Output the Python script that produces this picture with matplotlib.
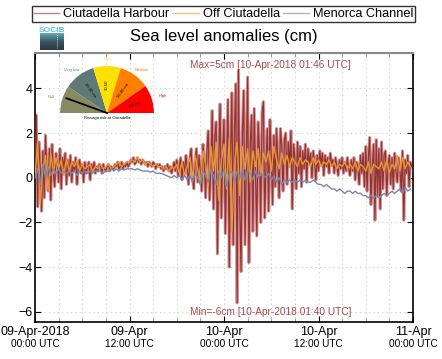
import numpy as np
import matplotlib
matplotlib.use('Agg')
import matplotlib.pyplot as plt
import matplotlib.dates as mdates
from matplotlib.patches import Wedge

plt.rcParams['font.family'] = ['Liberation Sans', 'DejaVu Sans']

# valores (cm)
# Ciutadella Harbour, cada 10 min desde 09-Apr-2018 00:00
harbour = [
    0.2, 2.8, -1.3, 1.6, 0.4, -1.5, 1.2, -0.9, 1.9, 0.3, -0.6, 1.3,
    -1.0, 1.5, 0.2, -0.4, 1.1, 0.6, -0.2, 1.3, -0.5, 0.9, 0.4, 1.1,
    -0.3, 0.8, 0.1, 1.0, -0.2, 0.7, 0.3, 0.9, -0.3, 0.5, 0.8, 0.2,
    0.6, -0.2, 0.7, 0.2, 0.5, 0.7, -0.1, 0.6, 0.3, 0.7, 0.2, 0.5,
    0.3, 0.6, 0.5, 0.2, 0.6, 0.4, 0.3, 0.5, 0.6, 0.3, 0.5, 0.4,
    0.4, 0.6, 0.5, 0.7, 0.4, 0.5, 0.7, 0.4, 0.6, 0.5, 0.7, 0.5,
    0.6, 0.8, 0.7, 0.9, 0.6, 0.7, 0.9, 0.7, 0.8, 0.6, 0.8, 0.7,
    0.6, 0.7, 0.5, 0.7, 0.6, 0.5, 0.7, 0.6, 0.4, 0.6, 0.5, 0.6,
    0.4, 0.5, 0.3, 0.5, 0.4, 0.6, 0.3, 0.5, 0.2, 0.4, 0.7, 0.3,
    0.8, 0.1, 0.5, 0.9, -0.1, 0.7, 0.2, 1.0, 0.4, -0.3, 0.9, 1.3,
    0.0, -0.5, 0.8, 1.3, -0.2, 1.0, 0.3, -0.6, 1.5, 0.6, -0.9, 1.2,
    2.1, -1.0, 0.5, 3.0, -1.4, 1.8, 2.5, -3.4, 0.8, 3.3, -1.8, 1.2,
    2.6, -2.5, 0.4, 3.5, -4.0, 1.0, 3.8, -3.0, 2.2, 4.2, -5.6, 4.8,
    -1.2, -4.2, 2.0, 3.9, -3.0, 0.8, 4.5, -3.8, 1.5, 2.8, -2.4, 3.1,
    0.3, -2.6, 2.5, 1.2, -2.0, 2.9, 3.4, -1.8, 0.6, 2.2, -1.5, 2.6,
    1.0, -1.2, 1.9, -0.4, 2.2, 0.8, -0.9, 2.2, 1.4, -0.6, 1.7, 2.0,
    -0.3, 1.6, 0.5, 2.1, -1.4, 1.5, 0.9, -0.5, 1.6, 0.2, 1.4, -0.4,
    1.2, 0.4, 1.5, -0.2, 1.3, 0.6, 1.1, 0.0, 1.2, 0.7, -0.1, 1.0,
    0.3, 1.2, 0.6, 1.1, 0.1, 1.0, 0.5, 0.9, 0.2, 1.1, 0.6, 0.8,
    0.2, 0.9, 0.5, 0.1, 0.8, 0.4, 0.9, 0.2, 0.7, 0.3, 0.9, 0.4,
    0.1, 0.8, 0.3, 0.9, -0.1, 0.7, 0.5, -0.3, 1.0, 0.2, 1.1, -0.4,
    1.4, -0.6, 0.9, 1.8, -1.2, 0.5, 1.5, -1.9, 1.7, -0.8, 1.3, -1.4,
    1.6, -0.5, 1.0, 1.2, -0.8, 0.6, 1.0, -0.3, 0.9, -0.5, 1.1, 0.3,
    -0.2, 0.9, 0.4, -0.6, 1.2, -1.9, 0.8, 0.2, 1.0, -0.4, 0.7, 0.5,
]

# Off Ciutadella, cada 20 min
off_ciutadella = [
    0.0, 1.6, -1.2, 0.4, 1.0, -0.6,
    1.1, 0.2, 0.9, 0.4, 0.8, 0.1,
    0.9, 0.3, 0.7, 0.5, 0.8, 0.3,
    0.6, 0.4, 0.5, 0.6, 0.3, 0.5,
    0.4, 0.6, 0.4, 0.5, 0.6, 0.4,
    0.5, 0.6, 0.7, 0.5, 0.6, 0.7,
    0.7, 0.8, 0.7, 0.9, 0.7, 0.8,
    0.6, 0.7, 0.6, 0.5, 0.6, 0.5,
    0.5, 0.4, 0.5, 0.3, 0.5, 0.4,
    0.6, 0.2, 0.7, 0.1, 0.5, 0.9,
    0.0, 1.0, 0.4, -0.3, 1.2, 0.6,
    -0.4, 1.4, 0.3, 1.6, -1.0, 0.8,
    1.5, -0.5, 1.8, -2.4, 0.6, 1.6,
    -0.8, 1.4, 0.4, 1.3, -0.2, 1.2,
    0.5, 1.3, 0.1, 1.1, 0.7, 1.2,
    0.3, 1.4, 0.8, 0.4, 1.1, 0.6,
    1.0, 0.5, 0.9, 0.7, 0.5, 0.9,
    0.6, 0.8, 0.7, 0.5, 0.9, 0.6,
    0.8, 0.5, 0.7, 0.6, 0.8, 0.5,
    0.7, 0.4, 0.6, 0.5, 0.7, 0.4,
    0.6, 0.4, 0.7, 0.3, 0.6, 0.5,
    0.3, 0.7, 0.2, 0.6, 0.5, 0.4,
    0.7, 0.3, 0.8, 0.2, 0.6, 0.4,
    1.0, 0.3, 0.9, 0.4, 0.7, 0.5,
]

# Menorca Channel, cada 20 min
menorca_channel = [
    0.0, 0.4, -0.3, 0.6, 0.0, 0.5,
    0.1, 0.4, 0.2, 0.4, 0.2, 0.3,
    0.2, 0.3, 0.2, 0.3, 0.1, 0.3,
    0.2, 0.3, 0.2, 0.3, 0.2, 0.3,
    0.3, 0.3, 0.2, 0.3, 0.3, 0.4,
    0.3, 0.4, 0.3, 0.4, 0.35, 0.4,
    0.4, 0.4, 0.35, 0.4, 0.35, 0.3,
    0.3, 0.3, 0.25, 0.3, 0.2, 0.2,
    0.2, 0.15, 0.1, 0.05, 0.0, 0.1,
    0.0, 0.1, -0.1, 0.1, -0.1, 0.1,
    -0.2, 0.2, 0.0, -0.3, 0.3, 0.1,
    -0.2, 0.4, 0.1, -0.3, 0.3, 0.0,
    0.4, -0.4, 0.2, 0.3, -0.2, 0.3,
    0.0, 0.4, -0.1, 0.3, 0.2, -0.1,
    0.3, 0.0, 0.2, 0.1, 0.0, 0.2,
    -0.1, 0.1, -0.2, 0.0, -0.3, -0.1,
    -0.2, -0.1, -0.2, -0.1, -0.2, -0.1,
    -0.2, -0.1, -0.2, -0.2, -0.1, -0.2,
    -0.3, -0.3, -0.4, -0.3, -0.4, -0.5,
    -0.5, -0.6, -0.5, -0.6, -0.7, -0.6,
    -0.6, -0.7, -0.6, -0.7, -0.7, -0.8,
    -0.8, -0.9, -0.8, -0.9, -0.8, -0.9,
    -0.8, -0.7, -0.8, -0.7, -0.6, -0.7,
    -0.6, -0.5, -0.7, -0.4, -0.6, -0.5,
]

series_names = ['Ciutadella Harbour', 'Off Ciutadella', 'Menorca Channel']
xtick_top = ['09-Apr-2018', '09-Apr', '10-Apr', '10-Apr', '11-Apr']
xtick_bottom = ['00:00 UTC', '12:00 UTC', '00:00 UTC', '12:00 UTC', '00:00 UTC']
max_text = 'Max=5cm [10-Apr-2018 01:46 UTC]'
min_text = 'Min=-6cm [10-Apr-2018 01:40 UTC]'

# niveles del semaforo de riesgo
gauge_levels = ['Null', 'Very low', 'Low', 'Medium', 'High']
gauge_ranges = ['', '10-30 cm', '30-50', '50-80 cm', '>80 cm']
gauge_edges = [180, 146, 107, 73, 35, 0]
gauge_colors = ['#8a8a62', '#5e7a77', '#ffe100', '#ff8000', '#ff0000']
gauge_needle = 160

t0 = np.datetime64('2018-04-09T00:00')
t_harbour = t0 + np.arange(len(harbour)) * np.timedelta64(10, 'm')
t_off = t0 + np.arange(len(off_ciutadella)) * np.timedelta64(20, 'm')
t_chan = t0 + np.arange(len(menorca_channel)) * np.timedelta64(20, 'm')

fig = plt.figure(figsize=(4.42, 3.59), dpi=100)
ax = fig.add_axes([35 / 442, 37 / 359, 378 / 442, 269.5 / 359])

# datos
ax.plot(t_harbour, harbour, color='#d49696', lw=2.2, zorder=2)
l1, = ax.plot(t_harbour, harbour, color='#963232', lw=0.9, zorder=3, label=series_names[0])
l2, = ax.plot(t_off, off_ciutadella, color='#e8982c', lw=1.0, zorder=4, label=series_names[1])
l3, = ax.plot(t_chan, menorca_channel, color='#7b85a8', lw=1.0, zorder=5, label=series_names[2])

ax.set_xlim(np.datetime64('2018-04-09T00:00'), np.datetime64('2018-04-11T00:00'))
ax.set_ylim(-6.45, 5.6)
ax.set_yticks([-6, -4, -2, 0, 2, 4])

ax.xaxis.set_major_locator(mdates.HourLocator(byhour=[0, 12]))
ax.xaxis.set_minor_locator(mdates.HourLocator(interval=3))
ax.set_xticklabels(xtick_top)
for xt, lab in zip(ax.get_xticks(), xtick_bottom):
    ax.annotate(lab, xy=(xt, 0), xycoords=('data', 'axes fraction'),
                xytext=(0, -15.5), textcoords='offset points',
                ha='center', va='center', fontsize=7.3)

ax.tick_params(axis='both', which='both', direction='in', top=True, right=True)
ax.tick_params(axis='x', which='major', labelsize=9, pad=3, length=4)
ax.tick_params(axis='x', which='minor', length=3, color='#888888')
ax.tick_params(axis='y', which='major', labelsize=9, pad=2, length=4)

ax.grid(True, which='both', axis='x', color='#c8c8c8', lw=0.8, linestyle=(0, (1, 3)))
ax.grid(True, which='major', axis='y', color='#c8c8c8', lw=0.8, linestyle=(0, (1, 3)))

for side in ['left', 'bottom', 'right']:
    ax.spines[side].set_linewidth(1.2)
    ax.spines[side].set_color('black')
ax.spines['top'].set_linewidth(1.5)
ax.spines['top'].set_color('#888888')

ax.text(0.624, 0.955, max_text, transform=ax.transAxes, ha='center', va='center',
        fontsize=7.3, color='#a84a4a')
ax.text(0.624, 0.038, min_text, transform=ax.transAxes, ha='center', va='center',
        fontsize=7.3, color='#a84a4a')

fig.text(224 / 442, 1 - 36 / 359, 'Sea level anomalies (cm)', ha='center', va='center',
         fontsize=12)

leg = fig.legend(handles=[l1, l2, l3], loc='lower left', ncol=3, mode='expand',
                 bbox_to_anchor=(32 / 442, 1 - 22 / 359, 383 / 442, 19 / 359),
                 fontsize=9.2, frameon=True, fancybox=False, borderpad=0.15,
                 handlelength=2.0, handletextpad=0.3, columnspacing=1.0,
                 borderaxespad=0)
leg.get_frame().set_edgecolor('black')
leg.get_frame().set_linewidth(1.0)
for h in leg.legend_handles:
    h.set_linewidth(1.0)
    h.set_alpha(0.6)

# logo SOCIB
lax = fig.add_axes([40 / 442, 1 - 50 / 359, 24 / 442, 17 / 359])
grad = np.linspace(0, 1, 20).reshape(-1, 1)
socib_cmap = matplotlib.colors.LinearSegmentedColormap.from_list(
    'socib', ['#5aaab5', '#3a5560', '#2c3a44'])
lax.imshow(grad, aspect='auto', cmap=socib_cmap, extent=[0, 1, 0, 1])
lax.plot([0.7, 0.7], [0.1, 0.95], color='white', lw=0.6, linestyle=(0, (1, 1.5)))
lax.set_xlim(0, 1)
lax.set_ylim(0, 1)
lax.axis('off')
fig.text(52 / 442, 1 - 30 / 359, 'SOCIB', ha='center', va='center', fontsize=6,
         color='#5ec3d0', fontweight='bold')

# semaforo
gax = fig.add_axes([40 / 442, 1 - 125 / 359, 135 / 442, 70 / 359])
gax.set_xlim(-1.43, 1.45)
gax.set_ylim(-0.255, 1.235)
gax.axis('off')
gax.patch.set_alpha(0)
for i in range(5):
    gax.add_patch(Wedge((0, 0), 1, gauge_edges[i + 1], gauge_edges[i],
                        facecolor=gauge_colors[i], edgecolor='none'))
    mid = np.deg2rad((gauge_edges[i] + gauge_edges[i + 1]) / 2)
    gax.text(1.25 * np.cos(mid), 1.12 * np.sin(mid) + 0.02, gauge_levels[i],
             ha='center', va='center', fontsize=3, color=gauge_colors[i])
    if gauge_ranges[i]:
        rot = np.rad2deg(mid) - 180 if np.rad2deg(mid) > 90 else np.rad2deg(mid)
        gax.text(0.6 * np.cos(mid), 0.6 * np.sin(mid), gauge_ranges[i],
                 ha='center', va='center', fontsize=3, color='black', rotation=rot)
ang = np.deg2rad(gauge_needle)
gax.plot([0, 0.92 * np.cos(ang)], [0, 0.92 * np.sin(ang)], color='black', lw=1.3)
gax.text(0, -0.1, 'Rissaga risk at Ciutadella', ha='center', va='center',
         fontsize=3, color='black')

fig.savefig('out.png', dpi=100)
